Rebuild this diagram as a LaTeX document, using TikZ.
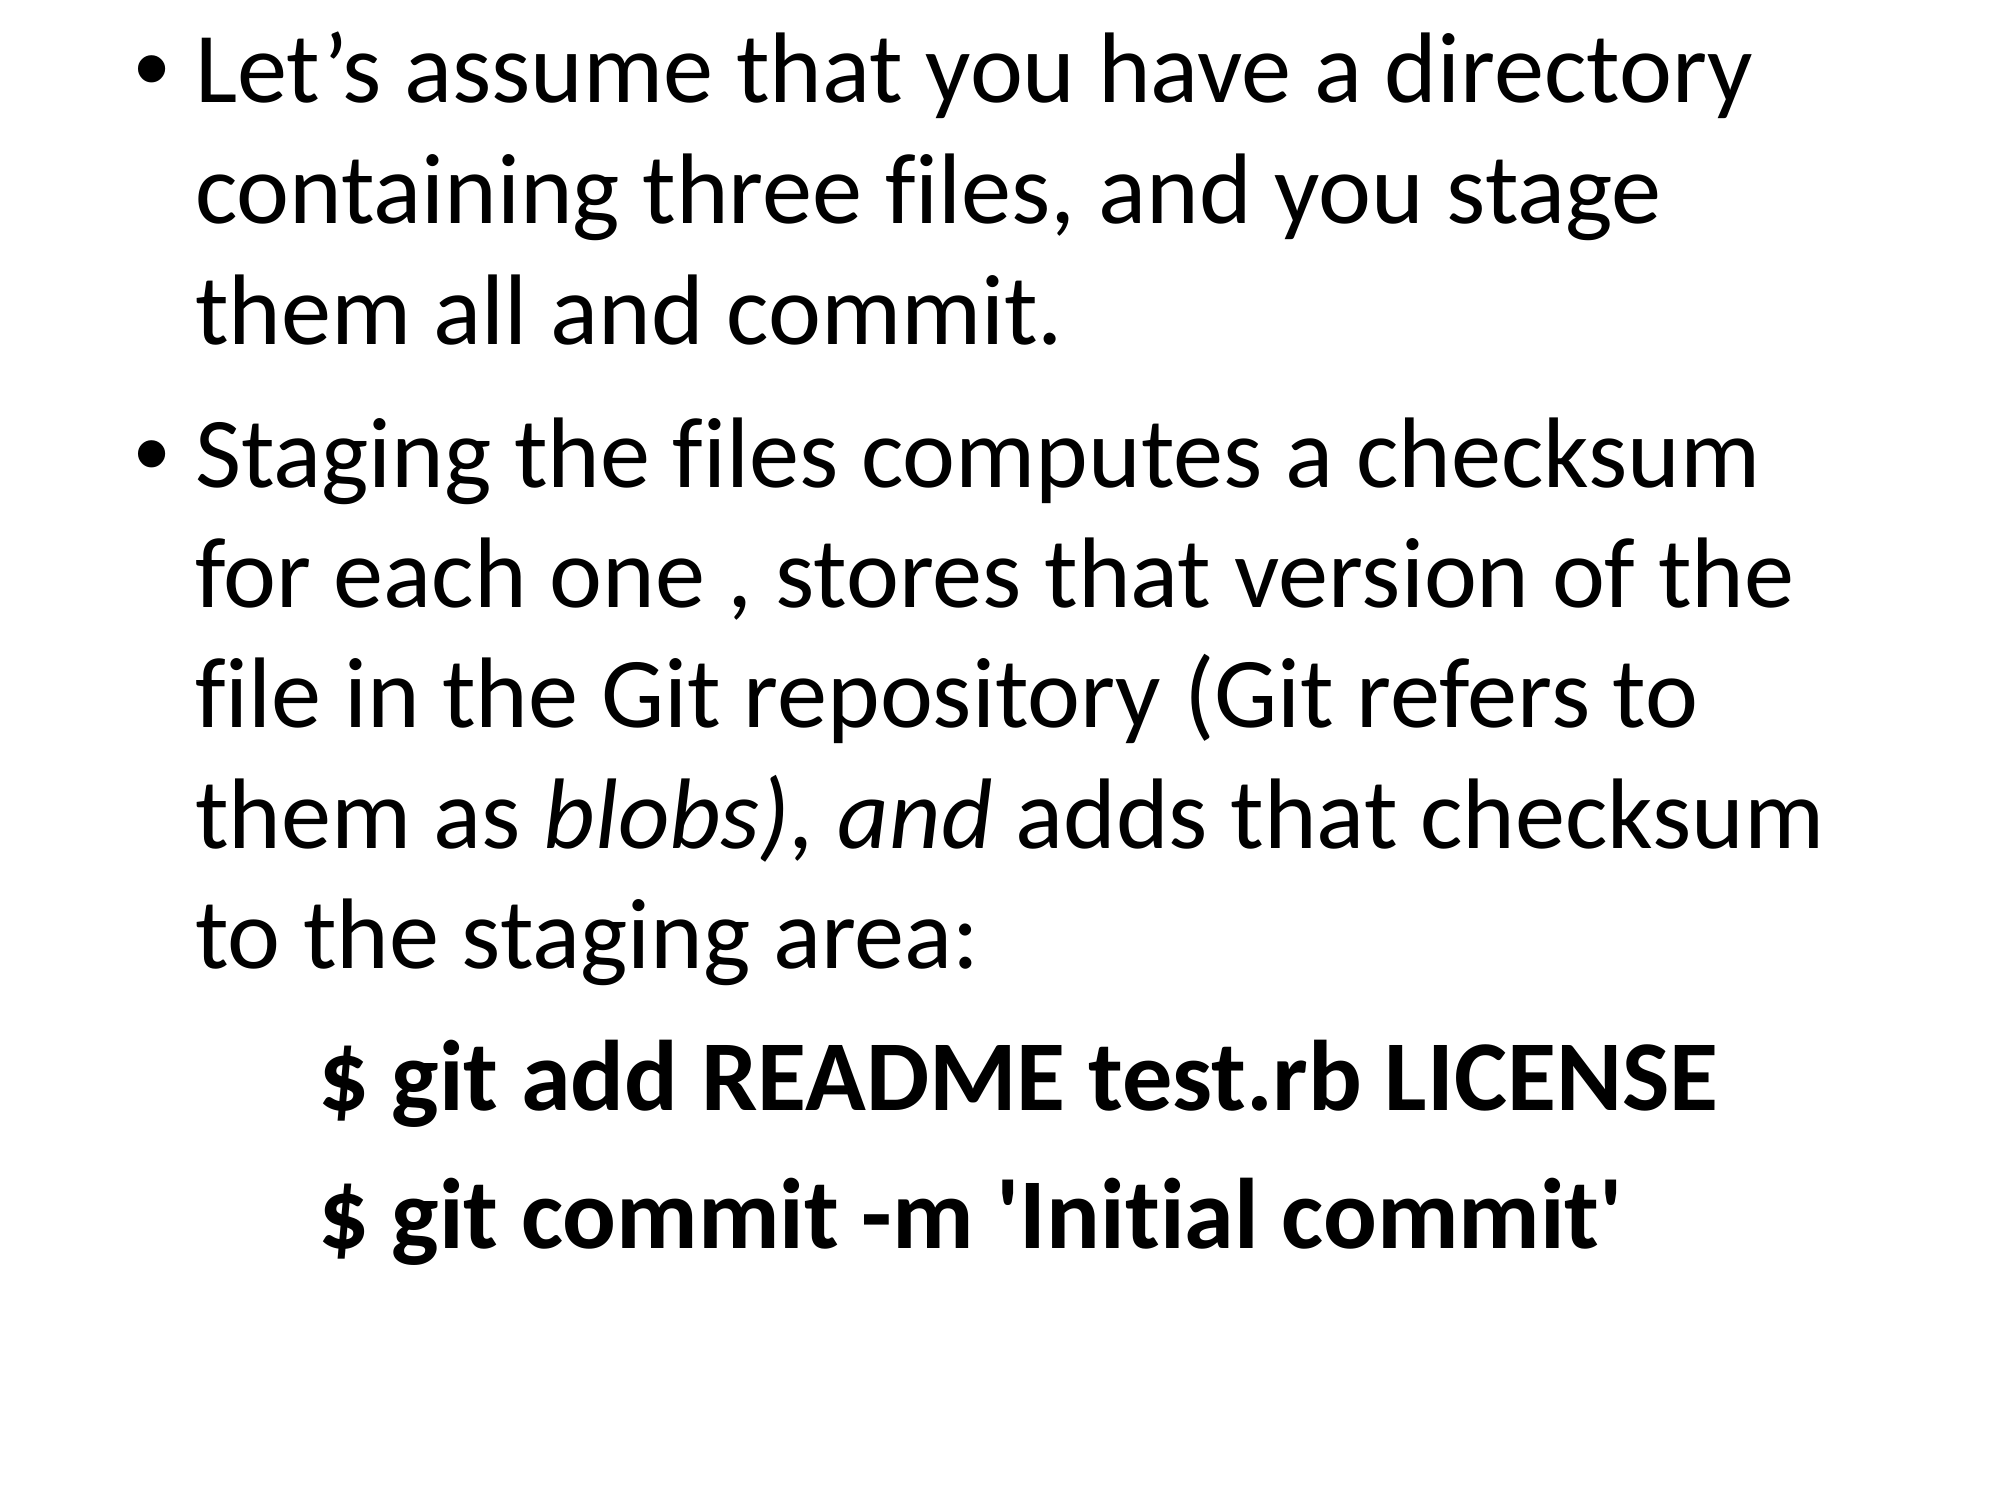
\documentclass[tikz,border=0pt]{standalone}
\usepackage{fontspec}
\setmainfont{Carlito}[Ligatures=NoCommon]
\newfontfamily\bulletfont{Liberation Sans}
\begin{document}
\begin{tikzpicture}[x=0.36pt,y=-0.36pt,
  txt/.style={anchor=base west,inner sep=0pt,outer sep=0pt,font=\fontsize{36.1pt}{43.5pt}\selectfont},
  cmd/.style={txt,font=\fontsize{36.1pt}{43.5pt}\selectfont\bfseries},
  bul/.style={anchor=base,inner sep=0pt,outer sep=0pt,font=\fontsize{36.1pt}{43.5pt}\bulletfont}]
\useasboundingbox[fill=white] (0,0) rectangle (2000,1500);
\node[bul] (b1) at (152,103) {•};
\node[txt] (l1) at (195,103) {Let’s assume that you have a directory};
\node[txt] (l2) at (195,224) {containing three files, and you stage};
\node[txt] (l3) at (195,345) {them all and commit.};
\node[bul] (b2) at (152,487) {•};
\node[txt] (l4) at (195,487) {Staging the files computes a checksum};
\node[txt] (l5) at (195,607) {for each one , stores that version of the};
\node[txt] (l6) at (195,727) {file in the Git repository (Git refers to};
\node[txt] (l7) at (195,848) {them as \textit{blobs), and} adds that checksum};
\node[txt] (l8) at (195,968) {to the staging area:};
\node[cmd] (c1) at (318,1110) {\$ git add README test.rb LICENSE};
\node[cmd] (c2) at (318,1248) {\$ git commit -m \textquotesingle Initial commit\textquotesingle};
\end{tikzpicture}
\end{document}
